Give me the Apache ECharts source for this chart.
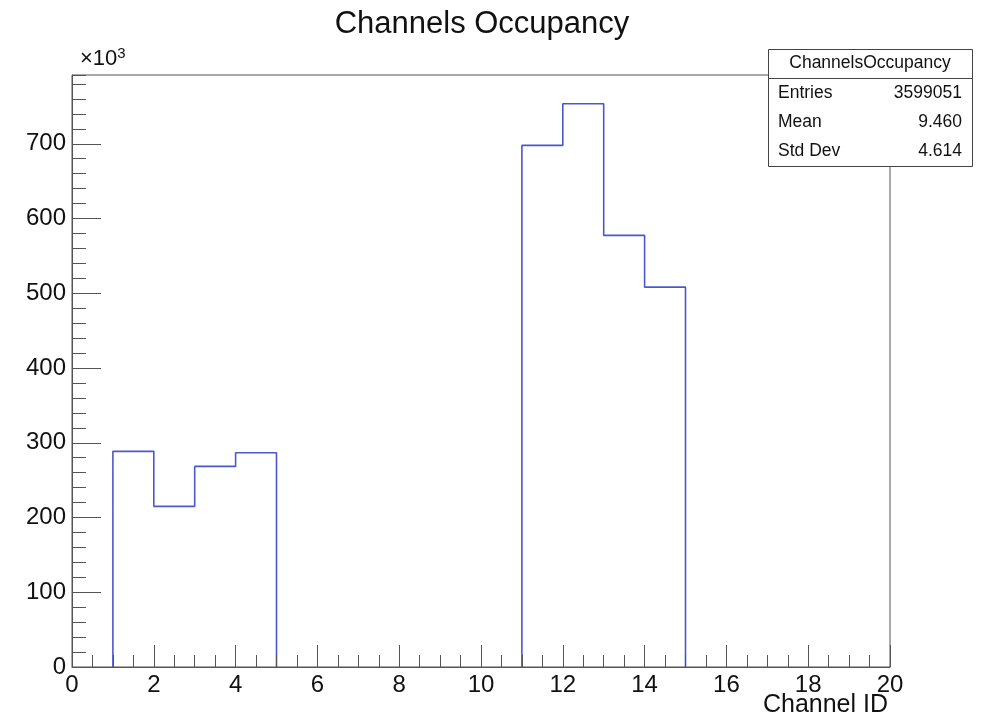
<!DOCTYPE html>
<html>
<head>
<meta charset="utf-8">
<script src="https://cdn.jsdelivr.net/npm/echarts@6/dist/echarts.min.js"></script>
<style>html,body{margin:0;padding:0;background:#fff}#c{width:985px;height:720px}</style>
</head>
<body>
<div id="c"></div>
<script>
// Histogram bins: channel ID bin edges 0..20, width 1
var binLow = [0,1,2,3,4,5,6,7,8,9,10,11,12,13,14,15,16,17,18,19];
var binCounts = [0,288500,214900,268400,286700,0,0,0,0,0,0,697800,753500,577400,508200,0,0,0,0,0];
var xTicks = [0,2,4,6,8,10,12,14,16,18,20];
var yTickLabels = ['0','100','200','300','400','500','600','700'];
var statsNames = ['Entries','Mean','Std Dev'];
var statsValues = ['3599051','9.460','4.614'];
var histName = 'ChannelsOccupancy';
var titleText = 'Channels Occupancy';
var xTitle = 'Channel ID';

var FONT = '"Liberation Sans", Arial, Helvetica, sans-serif';
var chart = echarts.init(document.getElementById('c'), null, {renderer:'canvas'});

// Build histogram outline for each run of non-empty bins (empty bins lie on the axis)
var runs = [];
var cur = null;
binLow.forEach(function(lo, i){
  var v = binCounts[i];
  if (v > 0) {
    if (!cur) { cur = [[lo, 0]]; runs.push(cur); }
    cur.push([lo, v]);
    var nextEmpty = (i === binLow.length - 1) || binCounts[i+1] <= 0;
    if (nextEmpty) { cur.push([lo + 1, v]); cur.push([lo + 1, 0]); cur = null; }
  }
});

var gLeft = 72, gRight = 890, gTop = 75, gBottom = 667;
var axisColor = '#555';
var lineColor = '#4a58cc';

var graphics = [
  {type:'text', x:482, y:24, z:100,
   style:{text:titleText, font:'31px ' + FONT, fill:'#111', align:'center', verticalAlign:'middle'}},
  {type:'text', x:80, y:46, z:100,
   style:{text:'{a|×10}{b|3}', fill:'#111',
     rich:{a:{fontSize:22, fontFamily:FONT, color:'#111', verticalAlign:'bottom', lineHeight:24},
           b:{fontSize:15, fontFamily:FONT, color:'#111', verticalAlign:'top', lineHeight:24, padding:[0,0,10,0]}}}},
  {type:'text', x:888, y:705, z:100,
   style:{text:xTitle, font:'25px ' + FONT, fill:'#111', align:'right', verticalAlign:'middle'}},
  {type:'rect', z:100, shape:{x:768.5, y:49.5, width:204, height:117},
   style:{fill:'#fff', stroke:'#444', lineWidth:1}},
  {type:'line', z:101, shape:{x1:768.5, y1:78.5, x2:972.5, y2:78.5},
   style:{stroke:'#444', lineWidth:1}},
  {type:'text', z:101, x:870, y:63.5,
   style:{text:histName, font:'17.5px ' + FONT, fill:'#111', align:'center', verticalAlign:'middle'}}
];
var rowY = [93, 122.5, 151.5];
statsNames.forEach(function(n,i){
  graphics.push({type:'text', z:101, x:778, y:rowY[i],
    style:{text:n, font:'17.5px ' + FONT, fill:'#111', align:'left', verticalAlign:'middle'}});
  graphics.push({type:'text', z:101, x:962, y:rowY[i],
    style:{text:statsValues[i], font:'17.5px ' + FONT, fill:'#111', align:'right', verticalAlign:'middle'}});
});

chart.setOption({
  animation:false,
  backgroundColor:'#fff',
  grid:{left:gLeft, right:985-gRight, top:gTop, bottom:720-gBottom, show:true, borderColor:axisColor, borderWidth:1, backgroundColor:'transparent'},
  xAxis:{
    type:'value', min:0, max:20, interval:2, z:5,
    axisLine:{show:true, onZero:false, lineStyle:{color:axisColor, width:1}},
    axisTick:{show:true, inside:true, length:22, lineStyle:{color:axisColor, width:1}},
    minorTick:{show:true, splitNumber:4, length:12, lineStyle:{color:axisColor, width:1}},
    axisLabel:{color:'#111', fontSize:24, fontFamily:FONT, margin:6,
      formatter:function(v){ return xTicks.indexOf(v) >= 0 ? String(v) : ''; }},
    splitLine:{show:false}
  },
  yAxis:[{
    type:'value', min:0, max:792000, interval:100000, z:5,
    axisLine:{show:true, lineStyle:{color:axisColor, width:1}},
    axisTick:{show:true, inside:true, length:29, lineStyle:{color:axisColor, width:1}},
    axisLabel:{color:'#111', fontSize:24, fontFamily:FONT, margin:6, showMaxLabel:false,
      formatter:function(v){ var k = Math.round(v/100000); return (v % 100000 === 0 && k < yTickLabels.length) ? yTickLabels[k] : ''; }},
    splitLine:{show:false}
  },{
    type:'value', min:0, max:792000, interval:20000, position:'left', z:5,
    axisLine:{show:false},
    axisTick:{show:true, inside:true, length:14, lineStyle:{color:axisColor, width:1}},
    axisLabel:{show:false},
    splitLine:{show:false}
  }],
  series: runs.map(function(r){
    return {type:'line', step:'end', data:r, yAxisIndex:0, z:2,
      symbol:'none', lineStyle:{color:lineColor, width:1.6}, clip:true};
  }),
  graphic:graphics
});
</script>
</body>
</html>
